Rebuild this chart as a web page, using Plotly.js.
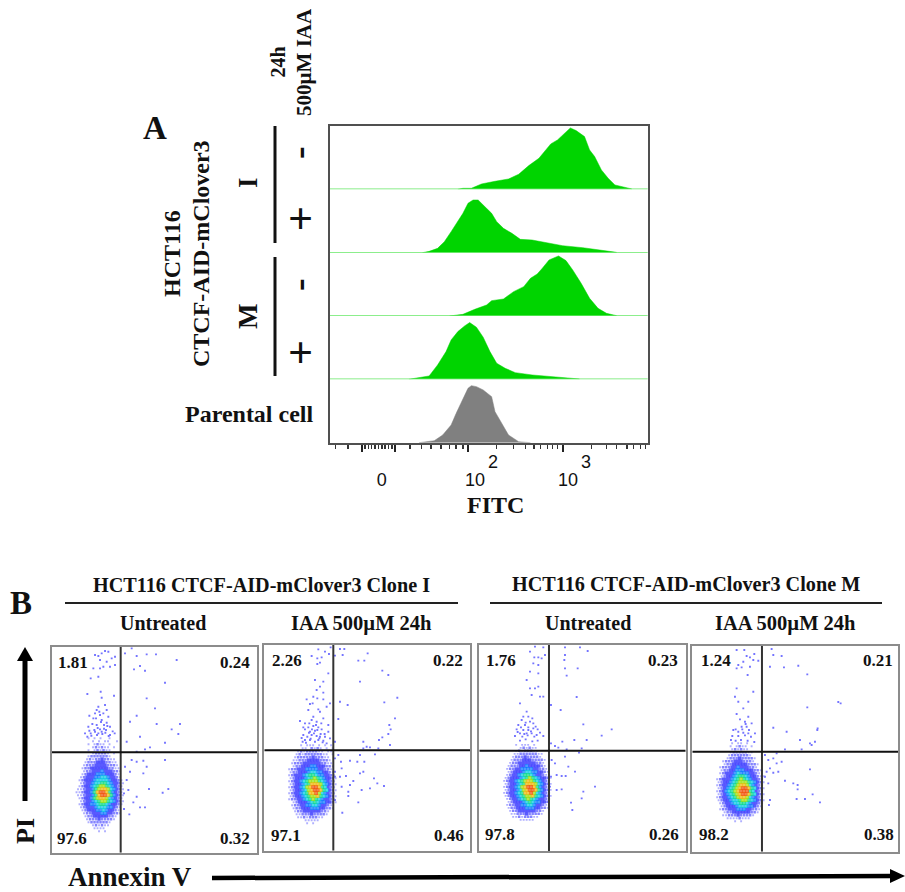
<!DOCTYPE html>
<html><head><meta charset="utf-8">
<script src="https://cdn.plot.ly/plotly-3.0.1.min.js"></script>
<style>html,body{margin:0;padding:0;background:#fff}#c{width:905px;height:892px}</style>
</head><body><div id="c"></div>
<script>
// ---------- Panel A: FITC histograms (channel, height) ----------
var histIMinusX=[970,985,1010,1040,1080,1120,1150,1180,1210,1225,1245,1265,1285,1303,1320,1345,1360,1375,1395,1415,1435,1460,1485];
var histIMinusY=[0,3,3,16,24,31,45,71,93,110,136,148,168,184,176,158,118,98,58,33,13,6,1];
var histIPlusX=[865,885,910,930,950,965,985,1000,1015,1030,1050,1070,1085,1105,1130,1155,1190,1230,1280,1340,1400,1440];
var histIPlusY=[0,4,13,33,63,88,118,148,158,158,138,118,93,73,58,40,38,30,21,15,6,1];
var histMMinusX=[945,985,1020,1055,1070,1105,1135,1165,1185,1205,1220,1240,1268,1290,1310,1335,1360,1385,1410,1440];
var histMMinusY=[0,5,20,33,46,51,73,88,113,126,143,168,180,166,138,98,53,23,8,1];
var histMPlusX=[825,850,885,910,935,950,970,990,1005,1025,1045,1065,1085,1110,1140,1190,1260,1330];
var histMPlusY=[0,4,10,43,83,118,143,160,170,156,126,83,48,33,20,13,7,1];
var histParentX=[855,900,925,950,965,985,1000,1010,1025,1045,1070,1080,1100,1120,1150,1185];
var histParentY=[0,6,23,53,88,133,163,171,168,158,138,93,58,23,3,0];
var fitcMinorTicks=[608,645,695,705,715,725,735,745,755,765,775,828,862,890,920,945,965,985,1085,1135,1170,1195,1215,1235,1250,1265,1365,1410,1440,1470,1490,1510,1525];
var fitcMajorTicks=[685,785,999,1280];
var fitcLabelVals=[745,1021,1296];
var fitcLabelText=['0','10','10'];
var fitcExponents=['2','3'];

// ---------- Panel B: density grids (1 sparse .. 9 peak), rows top to bottom ----------
var gridI=["0000101010010000","0000010101100100","0000101211010000","0000012121101000","0000101212110000","0000012222101000","0000122222210000","0001212232211000","0001222333221100","0012223333222100","0012233333322110","0012233343332210","0012333444333210","0123334455433210","0123334555543321","0123345566543321","0123345677654321","1123346788754321","1123346899864321","1123346899864321","0123346788754321","0123345677654321","0123344566543321","0123334555443210","0012333445433210","0012233344332210","0001223333322100","0001222322221000","0000122222210000","0000012121100000","0000001111000000","0000000101000000"];
var gridIIAA=["0000101110101010","0000110212101010","0001212222110110","0012122222211010","0012222232221100","0112223333222100","0122233333322110","0122333443332210","1223334444332210","1223334554433210","1233345665443321","1233345676543321","1233456777654321","1233456888754321","1233457899865321","1233457899865321","1233456889754321","1233456778654321","1223345676543321","0123334565443321","0122334455433210","0122333444332210","0012233333322100","0011222322221000","0001121222110000","0000011111000000","0000001010000000"];
var gridM=["0000101110100000","0000012121100000","0000121222110000","0001122222211000","0001222322221000","0012223332222100","0012233333322100","0122233433332100","0122334444332210","0123334554433210","0123345665433211","1233345676543321","1233456787654321","1233456888754321","1233457899864321","1233457899864321","1233456889754321","1233456778654321","0123345676543321","0123334565443320","0122334455433210","0122333444332210","0012233333322100","0011222322221000","0001121222110000","0000011111000000"];
var gridMIAA=["0000010110100000","0000101211010000","0000012121100000","0000122222110000","0000122222210000","0001222322221000","0012223332221000","0012233333222100","0122233433322100","0122334443332210","0123334544433210","0123345665433211","1233345676543321","1233456777654321","1233456788754321","1234567899865321","1234567899965321","1234567899865321","1233456788754321","1233455677654321","0123345566543321","0123334555443210","0122333444332210","0012233333322100","0011222322221000","0001111211100000","0000001010000000"];
var gridStartX=[229.5,87.5,87.5,726.5];
var gridStartY=[504.5,315.5,524.5,519.5];
var gridStep=9;
var levelColors=['#8f8fff','#5050ff','#1414ff','#0070ff','#00c8e0','#00d880','#98e000','#f0b400','#f04800'];
var levelSizes=[1.9,2.5,3.3,3.7,3.7,3.7,3.7,3.7,3.7];

// ---------- Panel B: sparse events (Annexin V, PI channels) ----------
var eventsIX=[285,295,305,315,325,345,300,320,335,330,345,310,300,280,272,295,262,302,305,342,295,290,315,320,285,300,325,268,280,305,320,312,290,265,255,272,285,295,305,318,330,375,395,410,440,468,530,420,402,435,495,440,465,410,390,470,540,515,535,420,380,495,450,435,410,395,410,430,495,375,390,440,430,380,385,447,505,488,410,372,400,420,435,372,388,298,310,288,303,322,277,293,312,330,268,283,300,316,338,274,291,307,326,344,262];
var eventsIY=[255,258,250,243,245,260,270,275,265,290,285,290,295,295,325,320,372,365,383,377,410,420,405,420,430,435,440,437,445,450,458,465,465,470,490,490,485,490,485,480,495,250,235,258,253,253,270,288,298,302,338,385,415,437,455,462,462,478,492,500,515,518,532,538,545,570,575,572,570,590,605,590,610,630,660,657,657,668,680,670,697,712,712,717,733,425,430,445,456,468,462,474,476,470,482,480,478,488,484,497,495,492,498,490,500];
var eventsIIAAX=[175,212,195,207,155,172,185,180,172,165,205,190,180,170,160,190,140,172,190,150,158,175,200,210,145,180,160,155,120,135,170,190,205,145,160,175,135,150,165,185,205,130,142,155,170,180,195,135,150,165,175,190,200,225,248,240,253,323,295,313,367,385,300,412,373,240,263,235,405,388,392,385,367,357,310,320,330,355,310,390,225,235,300,345,225,243,270,292,313,245,225,310,300,225,240,258,342,352,372,280,270,245,265,265,305,295,330,247,225,148,168,182,125,152,194,138,162,178,210,128,147,172,188,130,156,184];
var eventsIIAAY=[28,22,35,42,48,55,52,68,72,120,100,125,140,150,170,158,178,175,178,192,190,208,200,190,210,215,230,240,243,250,245,235,255,262,258,262,268,275,272,268,275,285,290,285,288,290,290,300,300,305,300,302,310,47,45,27,27,40,62,62,92,105,125,173,187,185,195,237,235,255,268,282,292,300,305,320,322,325,325,315,305,345,345,343,355,365,362,365,365,385,395,395,400,410,410,408,415,430,438,423,435,440,455,468,450,487,445,518,480,250,255,282,294,296,282,308,280,295,295,305,278,270,307,262,268,250];
var eventsMX=[180,205,165,178,190,200,210,175,190,165,190,155,165,180,190,170,195,205,135,155,160,140,165,175,130,150,125,145,160,175,135,155,170,185,270,315,338,270,268,308,270,275,305,228,257,325,410,380,298,228,262,335,240,250,320,275,230,240,312,270,280,300,228,245,260,272,360,245,260,325,320,288,292,225,145,172,152,182,138,160,188,128,148,168,195,120,142,158,178,205,135,152,172,188];
var eventsMY=[230,232,245,262,262,265,255,280,285,305,310,330,355,355,350,375,380,380,400,425,440,450,455,460,465,465,478,480,480,475,490,490,490,495,232,232,243,255,270,295,295,317,381,405,420,463,478,497,510,520,515,510,528,533,535,538,570,580,548,560,590,605,620,615,618,618,650,660,658,665,685,698,720,650,440,445,458,470,472,472,478,486,492,484,488,498,500,496,500,498,512,508,514,512];
var eventsMIAAX=[785,808,838,815,825,805,790,800,825,835,850,785,818,785,780,790,835,820,805,820,785,810,800,815,830,775,790,805,820,840,890,895,920,885,927,970,997,997,1090,1097,895,935,1028,1027,975,1020,1005,1010,980,930,905,870,880,895,920,885,905,1005,875,895,910,870,930,955,968,968,885,882,965,990,1013,1035,880,795,812,782,802,822,772,790,810,828,768,782,798,818,838];
var eventsMIAAY=[240,240,252,258,262,275,285,292,290,270,272,295,315,355,380,395,365,395,415,440,432,455,470,470,460,480,485,488,490,490,237,255,258,290,292,287,313,412,396,400,473,485,475,480,510,515,520,525,538,538,550,555,570,565,575,595,580,598,605,608,605,620,632,640,645,658,690,705,687,687,673,697,640,448,462,478,478,480,498,498,496,500,510,512,510,512,516];

var gateX=[362,220,222,861];
var gateY=[547,331,542,545];
var quadrantLabels=[['1.81','0.24','97.6','0.32'],['2.26','0.22','97.1','0.46'],['1.76','0.23','97.8','0.26'],['1.24','0.21','98.2','0.38']];

// ---------- Page geometry ----------
var W=905,H=892;
function px(x){return x/W;} function py(y){return 1-y/H;}
var histLeft=329.5,histRight=647.7;
var histBottoms=[189.3,252.7,316,379.3,442.7];
var histHeight=63.4;
var panels=[
 {l:51.7,r:257.3,t:646.7,b:852.7,xr:[155,772],yr:[848,230]},
 {l:264.3,r:470,t:645,b:850.7,xr:[13,630],yr:[632,15]},
 {l:479.3,r:685.7,t:645,b:851,xr:[13,632],yr:[843,225]},
 {l:692.3,r:898.3,t:645.7,b:851.7,xr:[652,1270],yr:[845,227]}];
var labelPos=[
 [[72.7,662.7],[235,662.7],[72,838],[235,838]],
 [[286.7,660],[447.7,660],[285.7,835.7],[448.7,835.7]],
 [[501,660],[663.3,660],[500,834.3],[664.3,834.3]],
 [[715.7,660],[877.7,660],[713.7,834.3],[879,834.3]]];

var traces=[],layout={width:W,height:H,margin:{l:0,r:0,t:0,b:0},paper_bgcolor:'#fff',plot_bgcolor:'rgba(0,0,0,0)',showlegend:false,annotations:[],shapes:[]};
var frameDark='#505050';

function txt(t,x,y,size,angle,family,weight,boxHeight){
  var a={text:t,x:px(x),y:py(y),xref:'paper',yref:'paper',xanchor:'center',yanchor:'middle',showarrow:false,
    font:{family:family||'Liberation Serif',size:size,color:'#111',weight:weight||700},textangle:angle||0};
  if(boxHeight) a.height=boxHeight;
  layout.annotations.push(a);
}
function bar(x0,y0,x1,y1,w,c){layout.shapes.push({type:'line',xref:'paper',yref:'paper',x0:px(x0),y0:py(y0),x1:px(x1),y1:py(y1),line:{color:c||'#111',width:w}});}
function tri(a,b,c){layout.shapes.push({type:'path',xref:'paper',yref:'paper',fillcolor:'#000',line:{width:0},
  path:'M'+px(a[0])+' '+py(a[1])+' L'+px(b[0])+' '+py(b[1])+' L'+px(c[0])+' '+py(c[1])+' Z'});}

// histogram subplots
var hx=[histIMinusX,histIPlusX,histMMinusX,histMPlusX,histParentX];
var hy=[histIMinusY,histIPlusY,histMMinusY,histMPlusY,histParentY];
hx.forEach(function(xs,i){
  var n=i+1,isLast=i===4,isFirst=i===0;
  layout['xaxis'+n]={domain:[px(histLeft),px(histRight)],range:[590,1532],anchor:'y'+n,
    showgrid:false,zeroline:false,showticklabels:false,ticks:isLast?'outside':'',
    tickmode:'array',tickvals:isLast?fitcMajorTicks:[],ticklen:7,tickwidth:2,tickcolor:'#222',
    showline:isLast||isFirst,linecolor:frameDark,linewidth:2,side:isFirst?'top':'bottom'};
  if(isLast) layout['xaxis'+n].minor={tickmode:'array',tickvals:fitcMinorTicks,ticks:'outside',ticklen:4,tickwidth:1.5,tickcolor:'#333'};
  layout['yaxis'+n]={domain:[py(histBottoms[i]),py(histBottoms[i]-histHeight)],range:[0,190],anchor:'x'+n,
    showgrid:false,zeroline:false,showticklabels:false,ticks:'',showline:true,mirror:true,linecolor:frameDark,linewidth:2};
  traces.push({type:'scatter',mode:'lines',x:xs,y:hy[i],xaxis:'x'+n,yaxis:'y'+n,fill:'tozeroy',
    fillcolor:isLast?'#808080':'#00d400',line:{width:0.5,color:isLast?'#808080':'#00d400'},hoverinfo:'skip'});
  if(!isLast) traces.push({type:'scatter',mode:'lines',x:[586,1535],y:[0,0],xaxis:'x'+n,yaxis:'y'+n,cliponaxis:false,
    line:{width:1.6,color:'#66e866'},hoverinfo:'skip'});
});
layout.xaxis6={overlaying:'x5',anchor:'y5',side:'bottom',range:[590,1532],domain:[px(histLeft),px(histRight)],showgrid:false,zeroline:false,
  tickmode:'array',tickvals:fitcLabelVals,ticktext:fitcLabelText,ticks:'',ticklen:0,showline:false,
  ticklabelstandoff:24,tickfont:{family:'Liberation Sans',size:18,color:'#111'}};
traces.push({type:'scatter',mode:'markers',x:[],y:[],xaxis:'x6',yaxis:'y5',hoverinfo:'skip'});
txt(fitcExponents[0],493,462,18,0,'Liberation Sans',400);
txt(fitcExponents[1],586,462,18,0,'Liberation Sans',400);

// density panels
var grids=[gridI,gridIIAA,gridM,gridMIAA];
var evX=[eventsIX,eventsIIAAX,eventsMX,eventsMIAAX],evY=[eventsIY,eventsIIAAY,eventsMY,eventsMIAAY];
panels.forEach(function(p,i){
  var n=i+7;
  layout['xaxis'+n]={domain:[px(p.l),px(p.r)],range:p.xr,anchor:'y'+n,showgrid:false,zeroline:false,showticklabels:false,ticks:'',showline:true,mirror:true,linecolor:'#8c8c8c',linewidth:2};
  layout['yaxis'+n]={domain:[py(p.b),py(p.t)],range:p.yr,anchor:'x'+n,showgrid:false,zeroline:false,showticklabels:false,ticks:'',showline:true,mirror:true,linecolor:'#8c8c8c',linewidth:2};
  traces.push({type:'scatter',mode:'markers',x:evX[i],y:evY[i],xaxis:'x'+n,yaxis:'y'+n,marker:{size:1.9,symbol:'square',color:'#7474ff',line:{width:0}},hoverinfo:'skip'});
  var gx=[],gy=[],gc=[],gs=[];
  for(var level=1;level<=9;level++){
    grids[i].forEach(function(row,r){
      row.split('').forEach(function(ch,c){
        if(+ch===level){
          gx.push(gridStartX[i]+gridStep*c+(r%2?gridStep/2:0));
          gy.push(gridStartY[i]+gridStep*r);
          gc.push(levelColors[level-1]);
          gs.push(levelSizes[level-1]);
        }
      });
    });
  }
  traces.push({type:'scatter',mode:'markers',x:gx,y:gy,xaxis:'x'+n,yaxis:'y'+n,marker:{size:gs,color:gc,symbol:'square',line:{width:0}},hoverinfo:'skip'});
  traces.push({type:'scatter',mode:'lines',x:[gateX[i],gateX[i]],y:p.yr,xaxis:'x'+n,yaxis:'y'+n,line:{color:'#333',width:2},hoverinfo:'skip'});
  traces.push({type:'scatter',mode:'lines',x:p.xr,y:[gateY[i],gateY[i]],xaxis:'x'+n,yaxis:'y'+n,line:{color:'#111',width:2},hoverinfo:'skip'});
  quadrantLabels[i].forEach(function(t,j){txt(t,labelPos[i][j][0],labelPos[i][j][1],17);});
});

txt('A',155,128,33);
txt('B',21,603,33);
txt('24h',277.5,62,20,-90);
txt('500µM IAA',304,62,21,-90);
txt('HCT116',172,254,24,-90);
txt('CTCF-AID-mClover3',201,254,24,-90);
txt('I',248,182,27,-90);
txt('M',248,316,27,-90);
txt('-',298,153,38,-90);
txt('+',300,218,44);
txt('-',298,285,38,-90);
txt('+',300,352,44);
txt('Parental cell',249.5,414,24);
txt('FITC',495.5,505,24);
txt('HCT116 CTCF-AID-mClover3 Clone I',261,585,20.2);
txt('HCT116 CTCF-AID-mClover3 Clone M',686,584,20.2);
txt('Untreated',163,623,20);
txt('IAA 500µM 24h',361,623,20.5);
txt('Untreated',588,623,20);
txt('IAA 500µM 24h',785,623,20.5);
txt('PI',25,831,26,-90);
txt('Annexin V',129.5,876.5,27,0,null,null,30);
bar(275,126,275,243,3);
bar(275,257,275,376,3);
bar(65,603,458,603,2,'#222');
bar(490,603,882,603,2,'#222');
bar(25,658,25,801,5,'#000');
tri([25,647],[17,661],[33,661]);
bar(212,878,892,876,4.5,'#000');
tri([905,876],[890,869],[890,883]);

Plotly.newPlot('c',traces,layout,{displayModeBar:false,staticPlot:true});
</script></body></html>
